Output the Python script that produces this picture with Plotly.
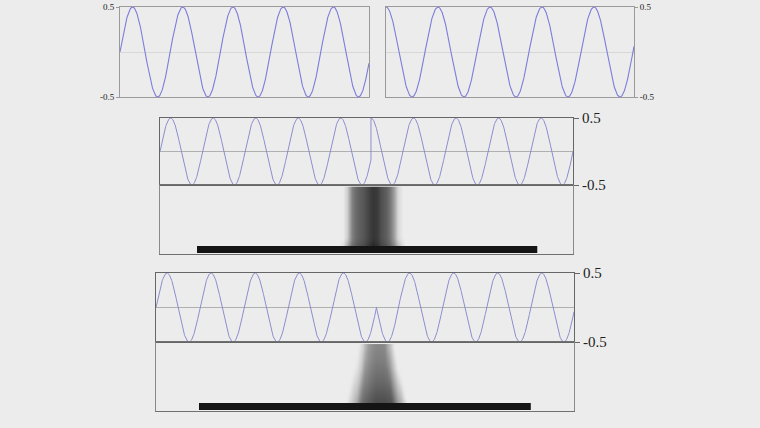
import numpy as np
import plotly.graph_objects as go

W, H = 760, 428
BG = "#ececec"
WAVE = "#7c7cdc"
SERIF = "Liberation Serif"

# ---- signal definitions ----
amp = 0.5
tl_cycles = 4.96            # top-left: sine
tr_cycles = 4.77            # top-right: cosine
mid_left_cycles = 4.96      # middle: sine then cosine (hard join)
mid_right_cycles = 4.75
bot_left_cycles = 5.0       # bottom: sine then inverted sine (zero-crossing join)
bot_right_cycles = 4.48
n_pts = 700

# dark horizontal bars (x range in cycles, y in lower-panel units 0..1)
mid_bar_x = [0.87, 8.87]
bot_bar_x = [0.975, 8.50]
bar_y = 0.066

# blurred column in middle lower panel (darkness 0..1)
mid_col_x = [4.3, 4.4, 4.5, 4.6, 4.7, 4.8, 4.9, 5.0, 5.1, 5.2, 5.3, 5.4, 5.5, 5.6, 5.7]
mid_col_top = [0.0, 0.12, 0.45, 0.55, 0.6, 0.64, 0.72, 0.77, 0.75, 0.66, 0.6, 0.5, 0.32, 0.08, 0.0]
mid_col_foot = [0.05, 0.3, 0.55, 0.62, 0.66, 0.7, 0.78, 0.85, 0.8, 0.72, 0.66, 0.58, 0.45, 0.25, 0.05]

# blurred trapezoid in bottom lower panel
bot_col_center = 4.99
bot_col_rows = [0.12, 0.22, 0.32, 0.42, 0.52, 0.62, 0.72, 0.82, 0.92]
bot_col_half = [0.50, 0.47, 0.44, 0.41, 0.38, 0.35, 0.33, 0.31, 0.29]
bot_col_peak = [0.68, 0.64, 0.60, 0.56, 0.53, 0.50, 0.47, 0.45, 0.43]
bot_col_shape_u = [-1.4, -1.0, -0.7, -0.4, 0.0, 0.4, 0.7, 1.0, 1.4]
bot_col_shape_v = [0.0, 0.3, 0.75, 0.9, 1.0, 1.0, 0.95, 0.5, 0.0]

tau = 2 * np.pi

def px(x):
    return x / W

def py(y):
    return 1 - y / H

fig = go.Figure()

# top-left
x1 = np.linspace(0, tl_cycles, n_pts)
fig.add_trace(go.Scatter(x=x1, y=amp * np.sin(tau * x1), mode="lines",
                         line=dict(color=WAVE, width=1.1), xaxis="x", yaxis="y",
                         hoverinfo="skip"))
# top-right
x2 = np.linspace(0, tr_cycles, n_pts)
fig.add_trace(go.Scatter(x=x2, y=amp * np.cos(tau * x2), mode="lines",
                         line=dict(color=WAVE, width=1.1), xaxis="x2", yaxis="y2",
                         hoverinfo="skip"))
# middle wave
xl = np.linspace(0, mid_left_cycles, n_pts)
xr = np.linspace(0, mid_right_cycles, n_pts)
x3 = np.concatenate([xl, mid_left_cycles + xr])
y3 = np.concatenate([amp * np.sin(tau * xl), amp * np.cos(tau * xr)])
fig.add_trace(go.Scatter(x=x3, y=y3, mode="lines",
                         line=dict(color="#8282cc", width=0.9), xaxis="x3", yaxis="y3",
                         hoverinfo="skip"))
# bottom wave
bl = np.linspace(0, bot_left_cycles, n_pts)
br = np.linspace(0, bot_right_cycles, n_pts)
x5 = np.concatenate([bl, bot_left_cycles + br])
y5 = np.concatenate([amp * np.sin(tau * bl), -amp * np.sin(tau * br)])
fig.add_trace(go.Scatter(x=x5, y=y5, mode="lines",
                         line=dict(color="#8282cc", width=0.9), xaxis="x5", yaxis="y5",
                         hoverinfo="skip"))

# middle lower: blurred column heatmap
col_y = np.round(np.arange(0.1, 0.951, 0.05), 3)
mid_z = []
for yy in col_y:
    w = np.clip((0.22 - yy) / 0.12, 0, 1)
    mid_z.append([(1 - w) * a + w * b for a, b in zip(mid_col_top, mid_col_foot)])
fig.add_trace(go.Heatmap(x=mid_col_x, y=col_y, z=mid_z, zmin=0, zmax=1,
                         colorscale=[[0, BG], [1, "#000000"]], showscale=False,
                         zsmooth="best", xaxis="x4", yaxis="y4", hoverinfo="skip"))
fig.add_trace(go.Scatter(x=mid_bar_x, y=[bar_y, bar_y], mode="lines",
                         line=dict(color="#141414", width=7), xaxis="x4", yaxis="y4",
                         hoverinfo="skip"))

# bottom lower: trapezoid heatmap
bx = np.round(np.arange(bot_col_center - 0.8, bot_col_center + 0.801, 0.05), 3)
bot_z = []
for hw, pk in zip(bot_col_half, bot_col_peak):
    u = (bx - bot_col_center) / hw
    bot_z.append(list(pk * np.interp(u, bot_col_shape_u, bot_col_shape_v, left=0, right=0)))
fig.add_trace(go.Heatmap(x=bx, y=bot_col_rows, z=bot_z, zmin=0, zmax=1,
                         colorscale=[[0, BG], [1, "#000000"]], showscale=False,
                         zsmooth="best", xaxis="x6", yaxis="y6", hoverinfo="skip"))
fig.add_trace(go.Scatter(x=bot_bar_x, y=[bar_y, bar_y], mode="lines",
                         line=dict(color="#141414", width=7), xaxis="x6", yaxis="y6",
                         hoverinfo="skip"))

def wave_y(domain, side, size, linecolor, zc, ticklen, anchor):
    return dict(domain=domain, range=[-0.5, 0.5], side=side, anchor=anchor,
                tickvals=[-0.5, 0.5], ticktext=["-0.5", "0.5"], ticks="outside",
                ticklen=ticklen, tickcolor=linecolor, tickwidth=1,
                tickfont=dict(family=SERIF, size=size, color="#222"),
                showline=True, mirror=True, linecolor=linecolor, linewidth=1,
                showgrid=False, zeroline=True, zerolinecolor=zc, zerolinewidth=1,
                fixedrange=True, automargin=False)

def plain_x(domain, rng, anchor, linecolor):
    return dict(domain=domain, range=rng, anchor=anchor, showticklabels=False,
                ticks="", showgrid=False, zeroline=False, showline=True,
                mirror=True, linecolor=linecolor, linewidth=1, fixedrange=True,
                automargin=False)

def lower_y(domain, anchor):
    return dict(domain=domain, range=[0, 1], anchor=anchor, showticklabels=False,
                ticks="", showgrid=False, zeroline=False, showline=True, mirror=True,
                linecolor="#8a8a8a", linewidth=1, fixedrange=True, automargin=False)

fig.update_layout(
    width=W, height=H, margin=dict(l=0, r=0, t=0, b=0, pad=0, autoexpand=False),
    paper_bgcolor=BG, plot_bgcolor=BG, showlegend=False,
    xaxis=plain_x([px(120), px(369)], [0, tl_cycles], "y", "#9a9a9a"),
    yaxis=wave_y([py(97), py(7)], "left", 9, "#9a9a9a", "#d8d8d8", 3, "x"),
    xaxis2=plain_x([px(386), px(634)], [0, tr_cycles], "y2", "#9a9a9a"),
    yaxis2=wave_y([py(97), py(7)], "right", 9, "#9a9a9a", "#d8d8d8", 3, "x2"),
    xaxis3=plain_x([px(160), px(573)], [0, mid_left_cycles + mid_right_cycles], "y3", "#666666"),
    yaxis3=wave_y([py(185), py(118)], "right", 15, "#666666", "#b0b0b0", 5, "x3"),
    xaxis4=plain_x([px(160), px(573)], [0, mid_left_cycles + mid_right_cycles], "y4", "#707070"),
    yaxis4=lower_y([py(254), py(185)], "x4"),
    xaxis5=plain_x([px(156), px(574)], [0, bot_left_cycles + bot_right_cycles], "y5", "#666666"),
    yaxis5=wave_y([py(342), py(273)], "right", 15, "#666666", "#b0b0b0", 5, "x5"),
    xaxis6=plain_x([px(156), px(574)], [0, bot_left_cycles + bot_right_cycles], "y6", "#707070"),
    yaxis6=lower_y([py(411), py(342)], "x6"),
)

fig.write_html("out.html", config={"displayModeBar": False},
               post_script="document.body.style.margin='0px';")
